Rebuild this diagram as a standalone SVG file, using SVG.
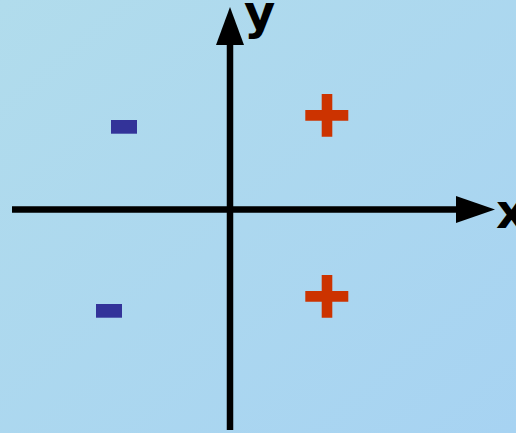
<svg xmlns="http://www.w3.org/2000/svg" width="516" height="433" viewBox="0 0 516 433">
<defs>
<linearGradient id="bg" x1="0" y1="0" x2="1" y2="1">
<stop offset="0" stop-color="#b1dcec"/>
<stop offset="1" stop-color="#a7d3f2"/>
</linearGradient>
<style>
.axis{stroke:#000;stroke-width:6.5;fill:none}
.head{fill:#000}
.lbl{font-family:"DejaVu Sans",sans-serif;font-weight:bold;font-size:48px;fill:#000}
.plus{fill:#cc3300}
.minus{fill:#333399}
</style>
</defs>
<rect width="516" height="433" fill="url(#bg)"/>
<g id="connectors">
<line class="axis" x1="12" y1="209.5" x2="460" y2="209.5"/>
<polygon class="head" points="456,196 495,209.5 456,223"/>
<line class="axis" x1="230" y1="430" x2="230" y2="42"/>
<polygon class="head" points="216,45 230,7 244,45"/>
</g>
<g id="label-y"><text class="lbl" x="244" y="29">y</text></g>
<g id="label-x"><text class="lbl" x="496" y="228">x</text></g>
<g id="plus-top">
<path class="plus" d="M321.7,94H332.3V110H348.3V120.7H332.3V136.7H321.7V120.7H305.3V110H321.7Z"/>
</g>
<g id="plus-bottom">
<path class="plus" d="M321.7,275H332.3V291H348.3V301.7H332.3V317.7H321.7V301.7H305.3V291H321.7Z"/>
</g>
<g id="minus-top"><rect class="minus" x="111" y="120" width="26" height="13.7"/></g>
<g id="minus-bottom"><rect class="minus" x="96" y="304" width="26" height="13.7"/></g>
</svg>
